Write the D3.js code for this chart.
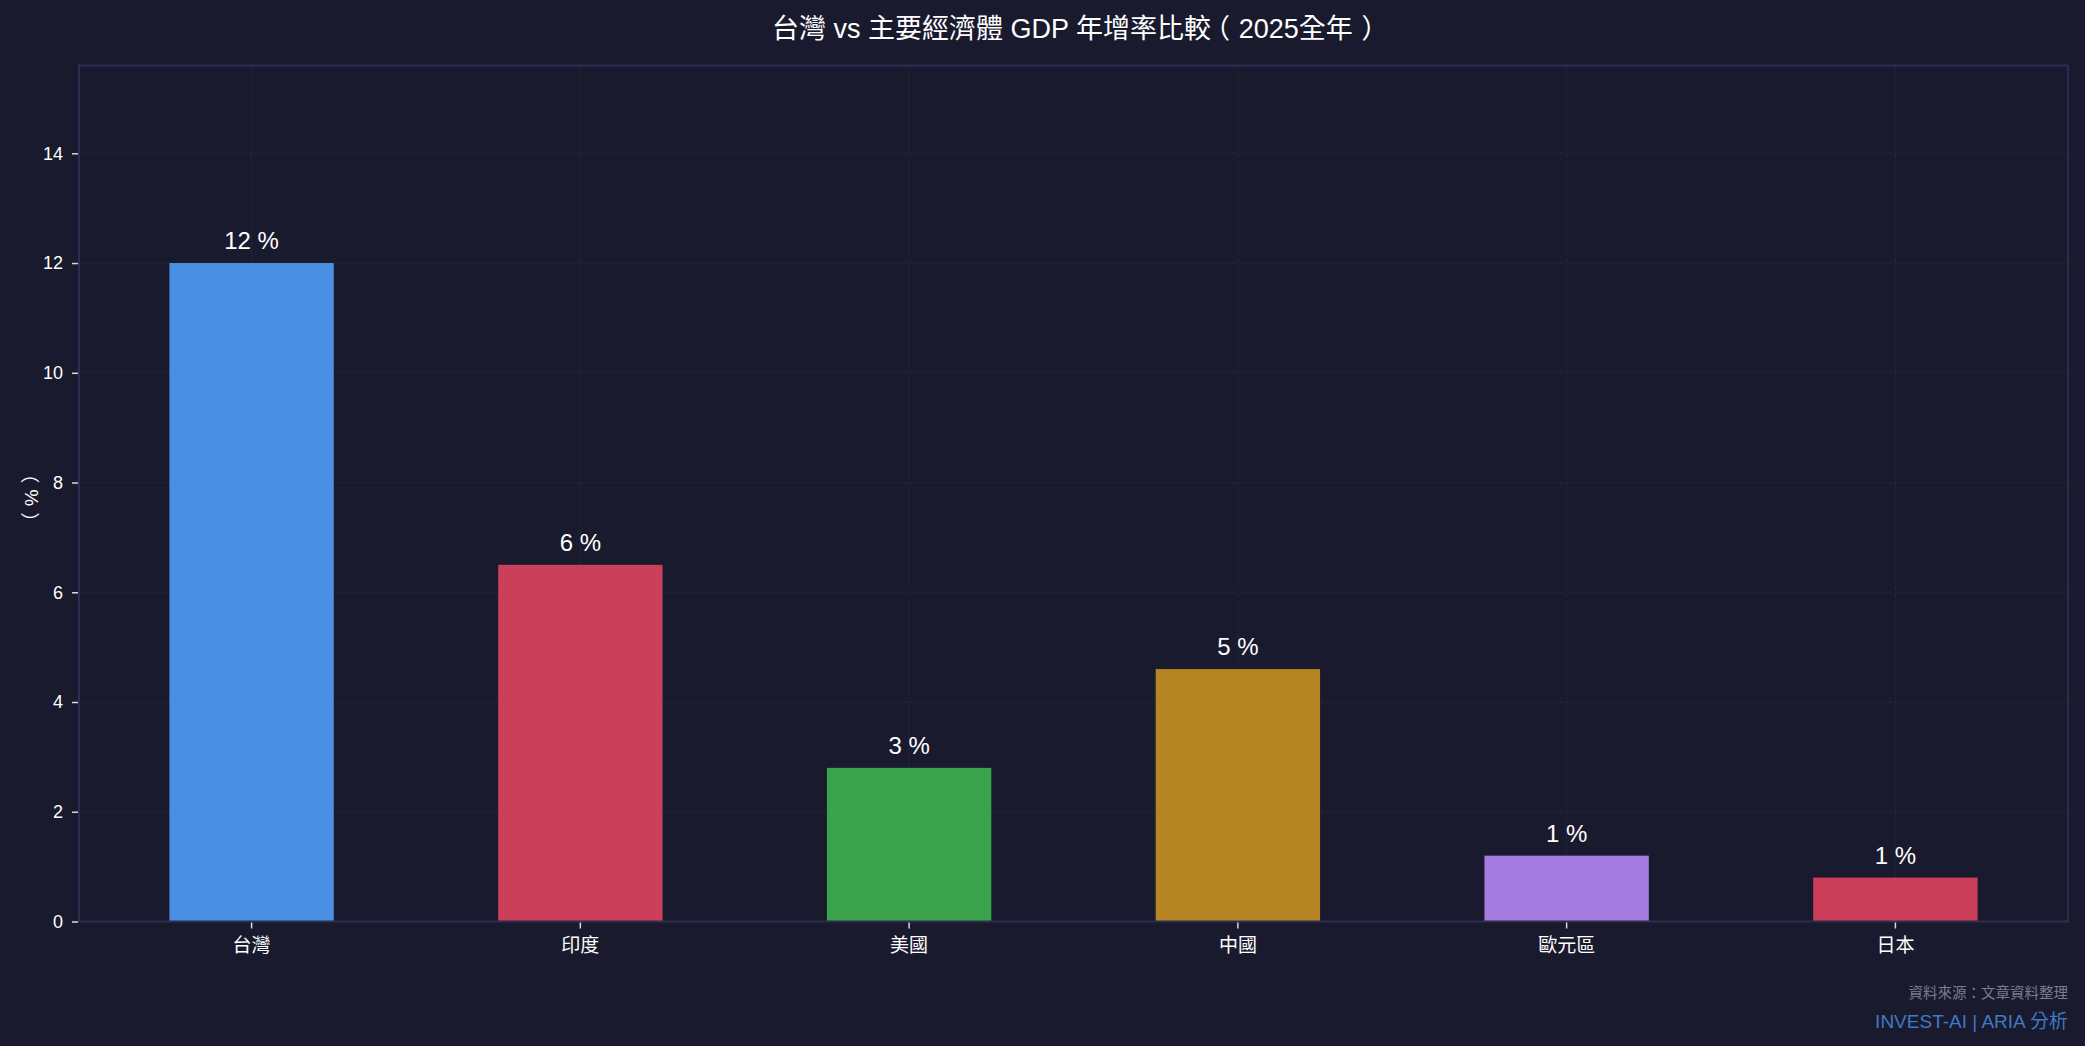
<!DOCTYPE html>
<html>
<head>
<meta charset="utf-8">
<script src="https://cdn.jsdelivr.net/npm/d3@7"></script>
<style>
  html, body { margin: 0; padding: 0; background: #1a1a2e; }
  svg { display: block; }
  text { font-family: "Liberation Sans", Arial, "Noto Sans CJK TC", sans-serif; }
  .halt { font-feature-settings: "halt" 1; }
</style>
</head>
<body>
<svg id="chart" width="2085" height="1046"></svg>
<script>
// ---- data ----
const categories = ["台灣", "印度", "美國", "中國", "歐元區", "日本"];
const growthValues = [12, 6.5, 2.8, 4.6, 1.2, 0.8];
const valueLabels = ["12 %", "6 %", "3 %", "5 %", "1 %", "1 %"];
const barColors = ["#4a90e2", "#cb3f5b", "#3aa34b", "#b58524", "#a47bdf", "#cb3f5b"];
const yTicks = [0, 2, 4, 6, 8, 10, 12, 14];
const yMax = 15.6;
const titleText = "台灣 vs 主要經濟體 GDP 年增率比較（2025全年）";
const yLabelText = "（%）";
const sourceText = "資料來源：文章資料整理";
const brandText = "INVEST-AI | ARIA 分析";

// ---- layout ----
const W = 2085, H = 1046;
const m = { left: 79, right: 2068, top: 65.5, bottom: 921.5 };
const svg = d3.select("#chart");
svg.append("rect").attr("width", W).attr("height", H).attr("fill", "#1a1a2e");

const x = d3.scaleBand().domain(categories).range([m.left, m.right])
  .paddingInner(0.5).paddingOuter(0.275);
const y = d3.scaleLinear().domain([0, yMax]).range([m.bottom, m.top]);

// write text; full-width parentheses use half-width alternates plus spacing,
// so they look centred with air around them (as in the reference)
function parenText(sel, str, size) {
  const parts = str.split(/([（）])/).filter(s => s.length);
  let afterOpen = false;
  parts.forEach(p => {
    const t = sel.append("tspan").text(p);
    if (p === "（") {
      t.attr("class", "halt").attr("dx", size * 0.2);
      afterOpen = true;
    } else if (p === "）") {
      t.attr("class", "halt").attr("dx", size * 0.32);
      afterOpen = false;
    } else {
      if (afterOpen) t.attr("dx", size * 0.32);
      afterOpen = false;
    }
  });
}

const gridColor = "rgba(255,255,255,0.055)";
// grid
const grid = svg.append("g");
grid.selectAll("line.h").data(yTicks).join("line")
  .attr("x1", m.left).attr("x2", m.right)
  .attr("y1", d => y(d)).attr("y2", d => y(d))
  .attr("stroke", gridColor).attr("stroke-width", 1).attr("stroke-dasharray", "5,3");
grid.selectAll("line.v").data(categories).join("line")
  .attr("y1", m.top).attr("y2", m.bottom)
  .attr("x1", d => x(d) + x.bandwidth() / 2).attr("x2", d => x(d) + x.bandwidth() / 2)
  .attr("stroke", gridColor).attr("stroke-width", 1).attr("stroke-dasharray", "5,3");

// bars
svg.append("g").selectAll("rect").data(categories).join("rect")
  .attr("x", d => x(d))
  .attr("width", x.bandwidth())
  .attr("y", (d, i) => y(growthValues[i]))
  .attr("height", (d, i) => y(0) - y(growthValues[i]))
  .attr("fill", (d, i) => barColors[i]);

// value labels
svg.append("g").selectAll("text").data(categories).join("text")
  .attr("x", d => x(d) + x.bandwidth() / 2)
  .attr("y", (d, i) => y(growthValues[i]) - 14)
  .attr("text-anchor", "middle")
  .attr("fill", "#ffffff")
  .attr("font-size", 24)
  .text((d, i) => valueLabels[i]);

// spines
svg.append("rect")
  .attr("x", m.left).attr("y", m.top)
  .attr("width", m.right - m.left).attr("height", m.bottom - m.top)
  .attr("fill", "none").attr("stroke", "#2d2d52").attr("stroke-width", 2);

// axes
const yAxis = svg.append("g").attr("transform", `translate(${m.left - 1},0)`)
  .call(d3.axisLeft(y).tickValues(yTicks).tickSize(6).tickPadding(9).tickFormat(d3.format("d")));
yAxis.select(".domain").remove();
yAxis.selectAll(".tick line").attr("stroke", "#d8d8d8").attr("stroke-width", 1.5);
yAxis.selectAll(".tick text").attr("fill", "#ffffff").attr("font-size", 18)
  .attr("font-family", "'Liberation Sans', Arial, sans-serif");

const xAxis = svg.append("g").attr("transform", `translate(0,${m.bottom + 1})`)
  .call(d3.axisBottom(x).tickSize(6).tickPadding(10));
xAxis.select(".domain").remove();
xAxis.selectAll(".tick line").attr("stroke", "#d8d8d8").attr("stroke-width", 1.5);
xAxis.selectAll(".tick text").attr("fill", "#ffffff").attr("font-size", 19)
  .attr("font-family", "'Noto Sans CJK TC', sans-serif");

// y label
const yl = svg.append("text")
  .attr("transform", `translate(38,${(m.top + m.bottom) / 2 + 8}) rotate(-90)`)
  .attr("text-anchor", "middle")
  .attr("fill", "#ffffff")
  .attr("font-size", 19)
  .attr("font-family", "'Liberation Sans', 'Noto Sans CJK TC', sans-serif");
parenText(yl, yLabelText, 19);

// title
const tt = svg.append("text")
  .attr("x", (m.left + m.right) / 2)
  .attr("y", 38)
  .attr("text-anchor", "middle")
  .attr("fill", "#ffffff")
  .attr("font-size", 27);
parenText(tt, titleText, 27);

// footer
svg.append("text")
  .attr("x", m.right).attr("y", 998)
  .attr("text-anchor", "end")
  .attr("fill", "#7c7c8c")
  .attr("font-size", 14.5)
  .attr("font-family", "'Noto Sans CJK TC', sans-serif")
  .text(sourceText);
svg.append("text")
  .attr("x", m.right).attr("y", 1028)
  .attr("text-anchor", "end")
  .attr("fill", "#4079c2")
  .attr("font-size", 19)
  .text(brandText);
</script>
</body>
</html>
